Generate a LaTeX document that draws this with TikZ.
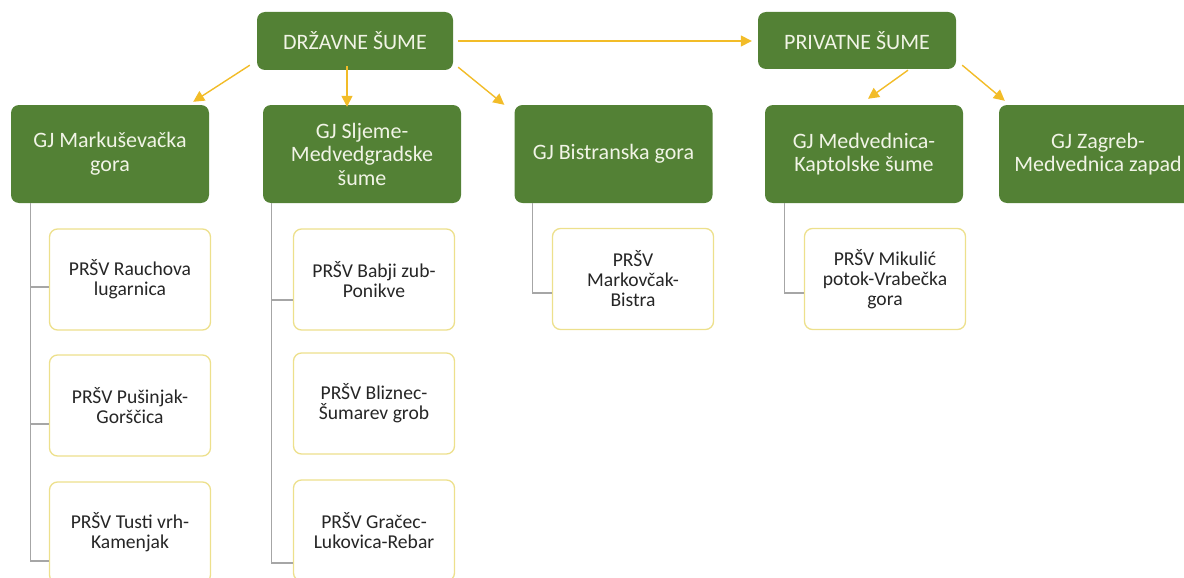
\documentclass[tikz,border=0pt]{standalone}
\usepackage{fontspec}
\setmainfont{Carlito}
\usetikzlibrary{arrows.meta}
\definecolor{gjgreen}{HTML}{538135}
\definecolor{gjtext}{HTML}{F1F4E6}
\definecolor{arrgold}{HTML}{F2BC28}
\definecolor{prsvedge}{HTML}{EDE08C}
\definecolor{prsvtext}{HTML}{262626}
\definecolor{treegray}{HTML}{A6A6A6}

\begin{document}
\begin{tikzpicture}[x=1pt, y=-1pt,
    gjbox/.style={fill=gjgreen, rounded corners=8pt, text=gjtext, align=center,
                  font=\fontsize{22}{23.5}\selectfont, inner sep=0pt},
    prsv/.style={draw=prsvedge, fill=white, line width=1.3pt, rounded corners=8pt,
                 text=prsvtext, align=center, minimum width=161pt, minimum height=101pt,
                 font=\fontsize{19.6}{20}\selectfont, inner sep=0pt},
    arr/.style={arrgold, line width=1.4pt, -{Triangle[length=11pt, width=11pt]}},
    tree/.style={treegray, line width=1.3pt}]

\useasboundingbox (0,0) rectangle (1184,578);
\clip (0,0) rectangle (1184,578);

% --- top level ------------------------------------------------------------
\node[gjbox, minimum width=196pt, minimum height=58pt] (drz) at (355,41) {DRŽAVNE ŠUME};
\node[gjbox, minimum width=198pt, minimum height=57pt] (priv) at (857,40.5) {PRIVATNE ŠUME};

% --- GJ row -- name/x/label -------------------------------------------------
\foreach \name/\x/\text in {%
    marku/110/{GJ Markuševačka\\gora},
    sljeme/362/{GJ Sljeme-\\Medvedgradske\\šume},
    bistra/613.5/{GJ Bistranska gora},
    medv/864/{GJ Medvednica-\\Kaptolske šume},
    zagreb/1098/{GJ Zagreb-\\Medvednica zapad}}
  \node[gjbox, minimum width=198pt, minimum height=98pt] (\name) at (\x,154) {\text};

% --- PRŠV boxes -- name/x/y/label -------------------------------------------
\foreach \name/\x/\y/\text in {%
    p11/130/279.5/{PRŠV Rauchova\\lugarnica},
    p12/130/405.5/{PRŠV Pušinjak-\\Gorščica},
    p13/130/532.5/{PRŠV Tusti vrh-\\Kamenjak},
    p21/374/279.5/{PRŠV Babji zub-\\Ponikve},
    p22/374/403.5/{PRŠV Bliznec-\\Šumarev grob},
    p23/374/530.5/{PRŠV Gračec-\\Lukovica-Rebar},
    p31/633/279/{PRŠV\\Markovčak-\\Bistra},
    p41/885/279/{PRŠV Mikulić\\potok-Vrabečka\\gora}}
  \node[prsv] (\name) at (\x,\y) {\text};

% --- grey tree lines -- GJ/x offset/PRŠV/branch offset ----------------------
\foreach \gj/\dx/\kid/\dy in {marku/20/p11/7.5, marku/20/p12/18.5, marku/20/p13/28.5,
    sljeme/9/p21/20.5, sljeme/9/p23/32.5, bistra/18/p31/14, medv/20/p41/14}
  \draw[tree] ([shift={(\dx,0)}]\gj.south west) |- ([shift={(0,\dy)}]\kid.west);

% --- gold arrows ------------------------------------------------------------
\draw[arr] ([shift={(-7,-5)}]drz.south west) -- ([shift={(-16,-3)}]marku.north east);
\draw[arr] ([shift={(-8,-4)}]drz.south) -- ([shift={(-15,2)}]sljeme.north);
\draw[arr] ([shift={(5,-3)}]drz.south east) -- ([shift={(-10,0)}]bistra.north west);
\draw[arr] ([xshift=5pt]drz.east) -- ([xshift=-6pt]priv.west |- drz.east);
\draw[arr] ([shift={(51,1)}]priv.south) -- ([shift={(4,-6)}]medv.north);
\draw[arr] ([shift={(6,-4)}]priv.south east) -- ([shift={(6,-4)}]zagreb.north west);
\end{tikzpicture}
\end{document}
